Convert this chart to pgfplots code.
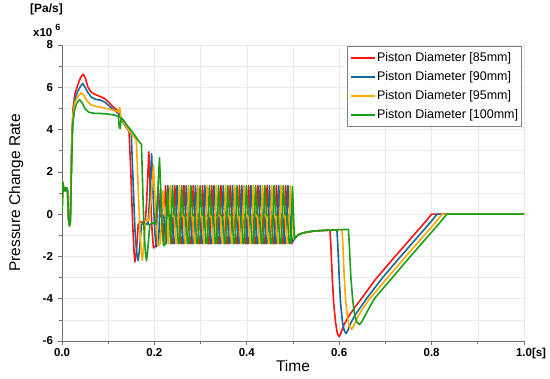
\documentclass[border=0pt]{standalone}
\usepackage{fontspec}
\setmainfont{Liberation Sans}
\usepackage{pgfplots}
\pgfplotsset{compat=1.18}
\definecolor{cred}{HTML}{FF1414}
\definecolor{cblue}{HTML}{106A9C}
\definecolor{corange}{HTML}{FFA800}
\definecolor{cgreen}{HTML}{18A018}
\definecolor{gridc}{HTML}{EAEAEA}
\definecolor{axc}{HTML}{707070}
\begin{document}
\begin{tikzpicture}
\begin{axis}[
  scale only axis, width=462pt, height=296pt,
  xmin=0, xmax=1, ymin=-6, ymax=8,
  axis lines=left, axis line style={axc, line width=0.8pt, -},
  xtick={0,0.2,0.4,0.6,0.8,1},
  xticklabels={0.0,0.2,0.4,0.6,0.8,{1.0\rlap{[s]}}},
  minor xtick={0.1,0.3,0.5,0.7,0.9},
  ytick={-6,-4,-2,0,2,4,6,8},
  yticklabels={-6,-4,-2,0,2,4,6,8},
  minor ytick={-5,-3,-1,1,3,5,7},
  grid=both,
  major grid style={gridc, line width=0.6pt},
  minor grid style={gridc, line width=0.6pt},
  tick align=outside, major tick length=4pt, minor tick length=3pt,
  tick style={axc, line width=0.7pt},
  ticklabel style={font=\fontsize{11.5}{13}\selectfont\bfseries},
  xticklabel style={anchor=base, yshift=-12pt},
  yticklabel style={anchor=east, xshift=-1.5pt},
  xlabel={Time}, ylabel={Pressure Change Rate},
  label style={font=\fontsize{15.5}{17}\selectfont},
  xlabel style={at={(axis description cs:0.5,-0.1047)}, anchor=base},
  ylabel style={at={(axis description cs:-0.0909,0.5)}, anchor=base},
  legend style={at={(1,1)}, anchor=north east, xshift=-2pt, yshift=-1pt,
    draw=gray, line width=0.8pt, fill=white,
    font=\fontsize{12.5}{14}\selectfont, inner xsep=2pt, inner ysep=4pt,
    row sep=3.8pt, nodes={text height=9.5pt, text depth=2.6pt, inner sep=1.5pt}},
  legend cell align=left,
  legend image code/.code={\draw[#1, line width=1.8pt] (0pt,0pt) -- (24pt,0pt);},
  every axis plot/.append style={line width=1.6pt, line join=round},
]
% 85 mm
\addplot[cred] coordinates {
(0,0.1) (0.002,1.5) (0.004,1.1) (0.006,1.25) (0.008,1.1) (0.010,1.25) (0.012,1.1) (0.014,-0.2) (0.016,-0.55) (0.018,-0.35)
(0.021,3.2) (0.024,5.0) (0.028,5.7) (0.034,6.1) (0.040,6.45) (0.046,6.62) (0.051,6.4) (0.056,6.02) (0.062,5.8) (0.068,5.7)
(0.076,5.62) (0.084,5.55) (0.092,5.47) (0.100,5.32) (0.108,5.13) (0.116,4.98) (0.122,4.84) (0.128,4.55) (0.134,4.3) (0.140,4.1)
(0.145,3.95) (0.149,2.0) (0.153,-0.5) (0.156,-1.8) (0.158,-2.25) (0.161,-1.8) (0.165,-0.5) (0.170,-0.35) (0.180,-0.45) (0.183,0.5)
(0.188,2.95) (0.191,1.2) (0.195,-0.8) (0.198,-1.6) (0.203,-1.5) (0.208,1.2) (0.212,0.0) (0.216,-0.2) (0.220,-1.4)
(0.224,1.35) (0.228,0.0) (0.233,-0.15) (0.237,-1.4) (0.240,-1.35)
(0.244,1.35) (0.248,0.0) (0.253,-0.15) (0.257,-1.4) (0.260,-1.35)
(0.264,1.35) (0.268,0.0) (0.273,-0.15) (0.277,-1.4) (0.280,-1.35)
(0.284,1.35) (0.288,0.0) (0.293,-0.15) (0.297,-1.4) (0.300,-1.35)
(0.304,1.35) (0.308,0.0) (0.313,-0.15) (0.317,-1.4) (0.320,-1.35)
(0.324,1.35) (0.328,0.0) (0.333,-0.15) (0.337,-1.4) (0.340,-1.35)
(0.344,1.35) (0.348,0.0) (0.353,-0.15) (0.357,-1.4) (0.360,-1.35)
(0.364,1.35) (0.368,0.0) (0.373,-0.15) (0.377,-1.4) (0.380,-1.35)
(0.384,1.35) (0.388,0.0) (0.393,-0.15) (0.397,-1.4) (0.400,-1.35)
(0.404,1.35) (0.408,0.0) (0.413,-0.15) (0.417,-1.4) (0.420,-1.35)
(0.424,1.35) (0.428,0.0) (0.433,-0.15) (0.437,-1.4) (0.440,-1.35)
(0.444,1.35) (0.448,0.0) (0.453,-0.15) (0.457,-1.4) (0.460,-1.35)
(0.464,1.35) (0.468,0.0) (0.473,-0.15) (0.477,-1.4) (0.480,-1.35)
(0.484,1.35) (0.488,0.0) (0.493,-0.15) (0.497,-1.4)
(0.502,-1.2) (0.506,-1.08) (0.512,-0.97) (0.520,-0.9) (0.530,-0.85) (0.545,-0.8) (0.560,-0.78) (0.575,-0.76)
(0.580,-0.75) (0.582,-1.5) (0.585,-3.0) (0.588,-4.2) (0.592,-5.1) (0.596,-5.65) (0.600,-5.8) (0.604,-5.6) (0.610,-5.25)
(0.620,-4.85) (0.634,-4.4) (0.648,-4.0) (0.678,-3.1) (0.721,-2.0) (0.761,-1.0) (0.785,-0.4) (0.800,0.0) (1.0,0.0)
};
\addlegendentry{Piston Diameter [85mm]}
% 90 mm
\addplot[cblue] coordinates {
(0,0.1) (0.002,1.5) (0.004,1.1) (0.006,1.25) (0.008,1.1) (0.010,1.25) (0.012,1.1) (0.014,-0.2) (0.016,-0.55) (0.018,-0.35)
(0.021,3.2) (0.024,4.9) (0.028,5.45) (0.034,5.8) (0.040,6.05) (0.045,6.18) (0.050,6.0) (0.056,5.75) (0.064,5.52) (0.074,5.42)
(0.084,5.39) (0.094,5.28) (0.104,5.08) (0.114,4.9) (0.122,4.76) (0.128,4.5) (0.134,4.28) (0.140,4.08) (0.150,3.75) (0.154,1.5)
(0.158,-0.8) (0.162,-1.9) (0.165,-2.2) (0.168,-1.6) (0.172,-0.5) (0.178,-0.4) (0.186,-0.5) (0.189,0.5) (0.194,2.85) (0.197,1.0)
(0.201,-0.9) (0.204,-1.55) (0.209,-1.4) (0.213,1.15) (0.217,0.0) (0.221,-0.2) (0.225,-1.4)
(0.229,1.35) (0.233,0.0) (0.238,-0.15) (0.242,-1.4) (0.245,-1.35)
(0.249,1.35) (0.253,0.0) (0.258,-0.15) (0.262,-1.4) (0.265,-1.35)
(0.269,1.35) (0.273,0.0) (0.278,-0.15) (0.282,-1.4) (0.285,-1.35)
(0.289,1.35) (0.293,0.0) (0.298,-0.15) (0.302,-1.4) (0.305,-1.35)
(0.309,1.35) (0.313,0.0) (0.318,-0.15) (0.322,-1.4) (0.325,-1.35)
(0.329,1.35) (0.333,0.0) (0.338,-0.15) (0.342,-1.4) (0.345,-1.35)
(0.349,1.35) (0.353,0.0) (0.358,-0.15) (0.362,-1.4) (0.365,-1.35)
(0.369,1.35) (0.373,0.0) (0.378,-0.15) (0.382,-1.4) (0.385,-1.35)
(0.389,1.35) (0.393,0.0) (0.398,-0.15) (0.402,-1.4) (0.405,-1.35)
(0.409,1.35) (0.413,0.0) (0.418,-0.15) (0.422,-1.4) (0.425,-1.35)
(0.429,1.35) (0.433,0.0) (0.438,-0.15) (0.442,-1.4) (0.445,-1.35)
(0.449,1.35) (0.453,0.0) (0.458,-0.15) (0.462,-1.4) (0.465,-1.35)
(0.469,1.35) (0.473,0.0) (0.478,-0.15) (0.482,-1.4) (0.485,-1.35)
(0.489,1.35) (0.493,0.0) (0.498,-1.3)
(0.502,-1.2) (0.506,-1.08) (0.512,-0.97) (0.520,-0.9) (0.530,-0.85) (0.545,-0.8) (0.560,-0.78) (0.575,-0.76) (0.595,-0.74)
(0.597,-1.5) (0.600,-3.0) (0.603,-4.2) (0.607,-5.1) (0.611,-5.52) (0.615,-5.65) (0.619,-5.48) (0.625,-5.15)
(0.635,-4.75) (0.648,-4.35) (0.659,-4.0) (0.694,-3.0) (0.733,-2.0) (0.773,-1.0) (0.797,-0.4) (0.812,0.0) (1.0,0.0)
};
\addlegendentry{Piston Diameter [90mm]}
% 95 mm
\addplot[corange] coordinates {
(0,0.1) (0.002,1.5) (0.004,1.1) (0.006,1.25) (0.008,1.1) (0.010,1.25) (0.012,1.1) (0.014,-0.2) (0.016,-0.55) (0.018,-0.35)
(0.021,3.2) (0.024,4.8) (0.028,5.3) (0.034,5.55) (0.042,5.74) (0.048,5.6) (0.054,5.35) (0.062,5.18) (0.072,5.1) (0.084,5.06)
(0.096,5.0) (0.108,4.93) (0.118,4.88) (0.123,4.82) (0.125,5.05) (0.127,4.6) (0.131,4.45) (0.140,4.1) (0.150,3.8) (0.161,3.5)
(0.165,1.2) (0.169,-1.0) (0.172,-1.9) (0.174,-2.2) (0.177,-1.5) (0.181,-0.3) (0.188,-0.3) (0.192,0.5) (0.198,2.3) (0.201,1.0)
(0.205,-0.8) (0.208,-1.5) (0.213,-1.4) (0.218,1.1) (0.222,0.0) (0.226,-0.2) (0.230,-1.4)
(0.234,1.35) (0.238,0.0) (0.243,-0.15) (0.247,-1.4) (0.250,-1.35)
(0.254,1.35) (0.258,0.0) (0.263,-0.15) (0.267,-1.4) (0.270,-1.35)
(0.274,1.35) (0.278,0.0) (0.283,-0.15) (0.287,-1.4) (0.290,-1.35)
(0.294,1.35) (0.298,0.0) (0.303,-0.15) (0.307,-1.4) (0.310,-1.35)
(0.314,1.35) (0.318,0.0) (0.323,-0.15) (0.327,-1.4) (0.330,-1.35)
(0.334,1.35) (0.338,0.0) (0.343,-0.15) (0.347,-1.4) (0.350,-1.35)
(0.354,1.35) (0.358,0.0) (0.363,-0.15) (0.367,-1.4) (0.370,-1.35)
(0.374,1.35) (0.378,0.0) (0.383,-0.15) (0.387,-1.4) (0.390,-1.35)
(0.394,1.35) (0.398,0.0) (0.403,-0.15) (0.407,-1.4) (0.410,-1.35)
(0.414,1.35) (0.418,0.0) (0.423,-0.15) (0.427,-1.4) (0.430,-1.35)
(0.434,1.35) (0.438,0.0) (0.443,-0.15) (0.447,-1.4) (0.450,-1.35)
(0.454,1.35) (0.458,0.0) (0.463,-0.15) (0.467,-1.4) (0.470,-1.35)
(0.474,1.35) (0.478,0.0) (0.483,-0.15) (0.487,-1.4) (0.490,-1.35)
(0.494,1.35) (0.498,-0.1)
(0.502,-1.2) (0.506,-1.08) (0.512,-0.97) (0.520,-0.9) (0.530,-0.85) (0.545,-0.8) (0.560,-0.78) (0.575,-0.76) (0.590,-0.74) (0.606,-0.73)
(0.608,-1.5) (0.611,-3.0) (0.614,-4.1) (0.618,-4.9) (0.622,-5.32) (0.627,-5.45) (0.631,-5.3) (0.637,-5.0)
(0.647,-4.6) (0.666,-4.0) (0.705,-3.0) (0.744,-2.0) (0.784,-1.0) (0.808,-0.4) (0.823,0.0) (1.0,0.0)
};
\addlegendentry{Piston Diameter [95mm]}
% 100 mm
\addplot[cgreen] coordinates {
(0,0.1) (0.002,1.5) (0.004,1.1) (0.006,1.25) (0.008,1.1) (0.010,1.25) (0.012,1.1) (0.014,-0.2) (0.016,-0.55) (0.018,-0.45)
(0.020,1.5) (0.023,4.2) (0.027,4.9) (0.032,5.25) (0.038,5.42) (0.044,5.25) (0.050,4.98) (0.058,4.82) (0.070,4.77) (0.085,4.76)
(0.100,4.73) (0.115,4.68) (0.122,4.62) (0.124,4.1) (0.126,4.05) (0.128,4.55) (0.133,4.45) (0.140,4.22) (0.150,3.95) (0.160,3.65)
(0.168,3.4) (0.172,3.3) (0.175,1.0) (0.178,-1.0) (0.181,-1.9) (0.183,-2.2) (0.186,-1.6) (0.190,-0.5) (0.197,-0.4) (0.203,-0.5)
(0.206,0.5) (0.211,2.67) (0.214,1.0) (0.217,-0.8) (0.220,-1.5) (0.224,-1.4) (0.228,1.1) (0.231,0.0) (0.233,-0.2) (0.235,-1.4)
(0.239,1.35) (0.243,0.0) (0.248,-0.15) (0.252,-1.4) (0.255,-1.35)
(0.259,1.35) (0.263,0.0) (0.268,-0.15) (0.272,-1.4) (0.275,-1.35)
(0.279,1.35) (0.283,0.0) (0.288,-0.15) (0.292,-1.4) (0.295,-1.35)
(0.299,1.35) (0.303,0.0) (0.308,-0.15) (0.312,-1.4) (0.315,-1.35)
(0.319,1.35) (0.323,0.0) (0.328,-0.15) (0.332,-1.4) (0.335,-1.35)
(0.339,1.35) (0.343,0.0) (0.348,-0.15) (0.352,-1.4) (0.355,-1.35)
(0.359,1.35) (0.363,0.0) (0.368,-0.15) (0.372,-1.4) (0.375,-1.35)
(0.379,1.35) (0.383,0.0) (0.388,-0.15) (0.392,-1.4) (0.395,-1.35)
(0.399,1.35) (0.403,0.0) (0.408,-0.15) (0.412,-1.4) (0.415,-1.35)
(0.419,1.35) (0.423,0.0) (0.428,-0.15) (0.432,-1.4) (0.435,-1.35)
(0.439,1.35) (0.443,0.0) (0.448,-0.15) (0.452,-1.4) (0.455,-1.35)
(0.459,1.35) (0.463,0.0) (0.468,-0.15) (0.472,-1.4) (0.475,-1.35)
(0.479,1.35) (0.483,0.0) (0.488,-0.15) (0.492,-1.4) (0.495,-1.35)
(0.499,1.3) (0.503,-1.2)
(0.506,-1.08) (0.512,-0.97) (0.520,-0.9) (0.530,-0.85) (0.545,-0.8) (0.560,-0.78) (0.575,-0.76) (0.595,-0.74) (0.620,-0.72)
(0.622,-1.5) (0.625,-2.9) (0.629,-4.0) (0.633,-4.7) (0.638,-5.1) (0.644,-5.22) (0.650,-5.05) (0.662,-4.55)
(0.676,-4.0) (0.715,-3.0) (0.754,-2.0) (0.794,-1.0) (0.818,-0.4) (0.833,0.0) (1.0,0.0)
};
\addlegendentry{Piston Diameter [100mm]}
\end{axis}
\node[anchor=base west, inner sep=0pt, font=\fontsize{12}{14}\selectfont\bfseries]
  at ([xshift=-32pt,yshift=32pt]current axis.north west) {[Pa/s]};
\node[anchor=base west, inner sep=0pt, font=\fontsize{11.5}{13}\selectfont\bfseries]
  at ([xshift=-29pt,yshift=8pt]current axis.north west) {x10\hspace{3pt}\raisebox{6pt}{\fontsize{9}{10}\selectfont 6}};
\pgfresetboundingbox
\path ([xshift=-62pt,yshift=-38pt]current axis.south west) rectangle ([xshift=26pt,yshift=45pt]current axis.north east);
\end{tikzpicture}
\end{document}
